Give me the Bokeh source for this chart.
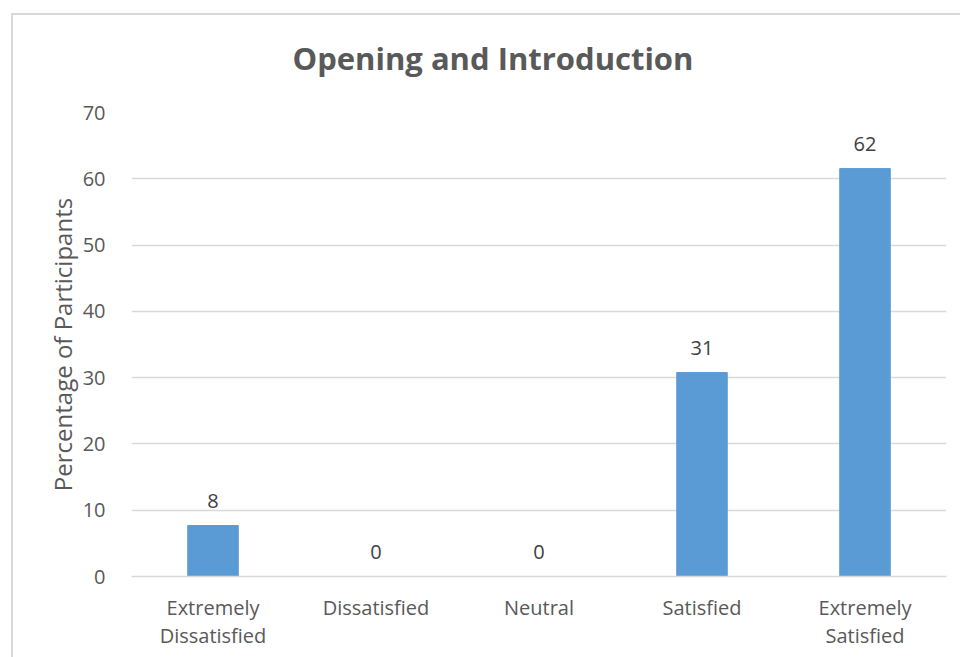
from bokeh.plotting import figure
from bokeh.models import ColumnDataSource, Range1d, FixedTicker
from bokeh.core.properties import value
from bokeh.embed import file_html
from bokeh.resources import INLINE

categories = ["Extremely\nDissatisfied", "Dissatisfied", "Neutral", "Satisfied", "Extremely\nSatisfied"]
percentages = [7.69, 0.0, 0.0, 30.77, 61.54]
labels = [str(int(round(v))) for v in percentages]
y_ticks = [0, 10, 20, 30, 40, 50, 60, 70]

src = ColumnDataSource(dict(cat=categories, val=percentages, lab=labels))

FONT = "Open Sans"

p = figure(x_range=categories, y_range=Range1d(0, 70),
           width=960, height=657, output_backend="svg", toolbar_location=None,
           min_border_left=131, min_border_right=14, min_border_top=112, min_border_bottom=81)
# chart-area border line (left and top) drawn with CSS shadows behind a transparent border area
p.border_fill_color = None
p.styles = {"box-shadow": "inset 11px 13px 0 0 #ffffff, inset 13px 15px 0 0 #d9d9d9",
            "background-color": "#ffffff"}

p.title.text = "Opening and Introduction"
p.title.text_font = FONT
p.title.text_font_size = "31px"
p.title.text_font_style = "bold"
p.title.text_color = "#595959"
p.title.align = "left"
p.title.offset = 161
p.title.standoff = 68

p.vbar(x="cat", top="val", width=0.31, source=src, color="#5b9bd5")
p.text(x="cat", y="val", text="lab", source=src, text_font=value(FONT), text_font_size="20px",
       text_color="#404040", text_align="center", text_baseline="middle", y_offset=-25)

p.outline_line_color = None
p.background_fill_color = "#ffffff"
p.xgrid.grid_line_color = None
p.ygrid.grid_line_color = "#d9d9d9"
p.ygrid.grid_line_width = 1.5
p.yaxis.ticker = FixedTicker(ticks=y_ticks)
p.yaxis.axis_line_color = None
p.yaxis.major_tick_line_color = None
p.yaxis.minor_tick_line_color = None
p.yaxis.major_label_standoff = 20
p.yaxis.axis_label = "Percentage of Participants"
p.yaxis.axis_label_text_font = FONT
p.yaxis.axis_label_text_font_size = "24px"
p.yaxis.axis_label_text_font_style = "normal"
p.yaxis.axis_label_text_color = "#595959"
p.yaxis.axis_label_standoff = 1

p.xaxis.axis_line_color = "#d9d9d9"
p.xaxis.axis_line_width = 1.5
p.xaxis.major_tick_line_color = None
p.xaxis.minor_tick_line_color = None
p.xaxis.major_label_standoff = 11

for ax in (p.xaxis[0], p.yaxis[0]):
    ax.major_label_text_font = FONT
    ax.major_label_text_font_size = "20px"
    ax.major_label_text_color = "#595959"
p.xaxis.major_label_text_line_height = 1.04

open("out.html", "w").write(file_html(p, INLINE))
